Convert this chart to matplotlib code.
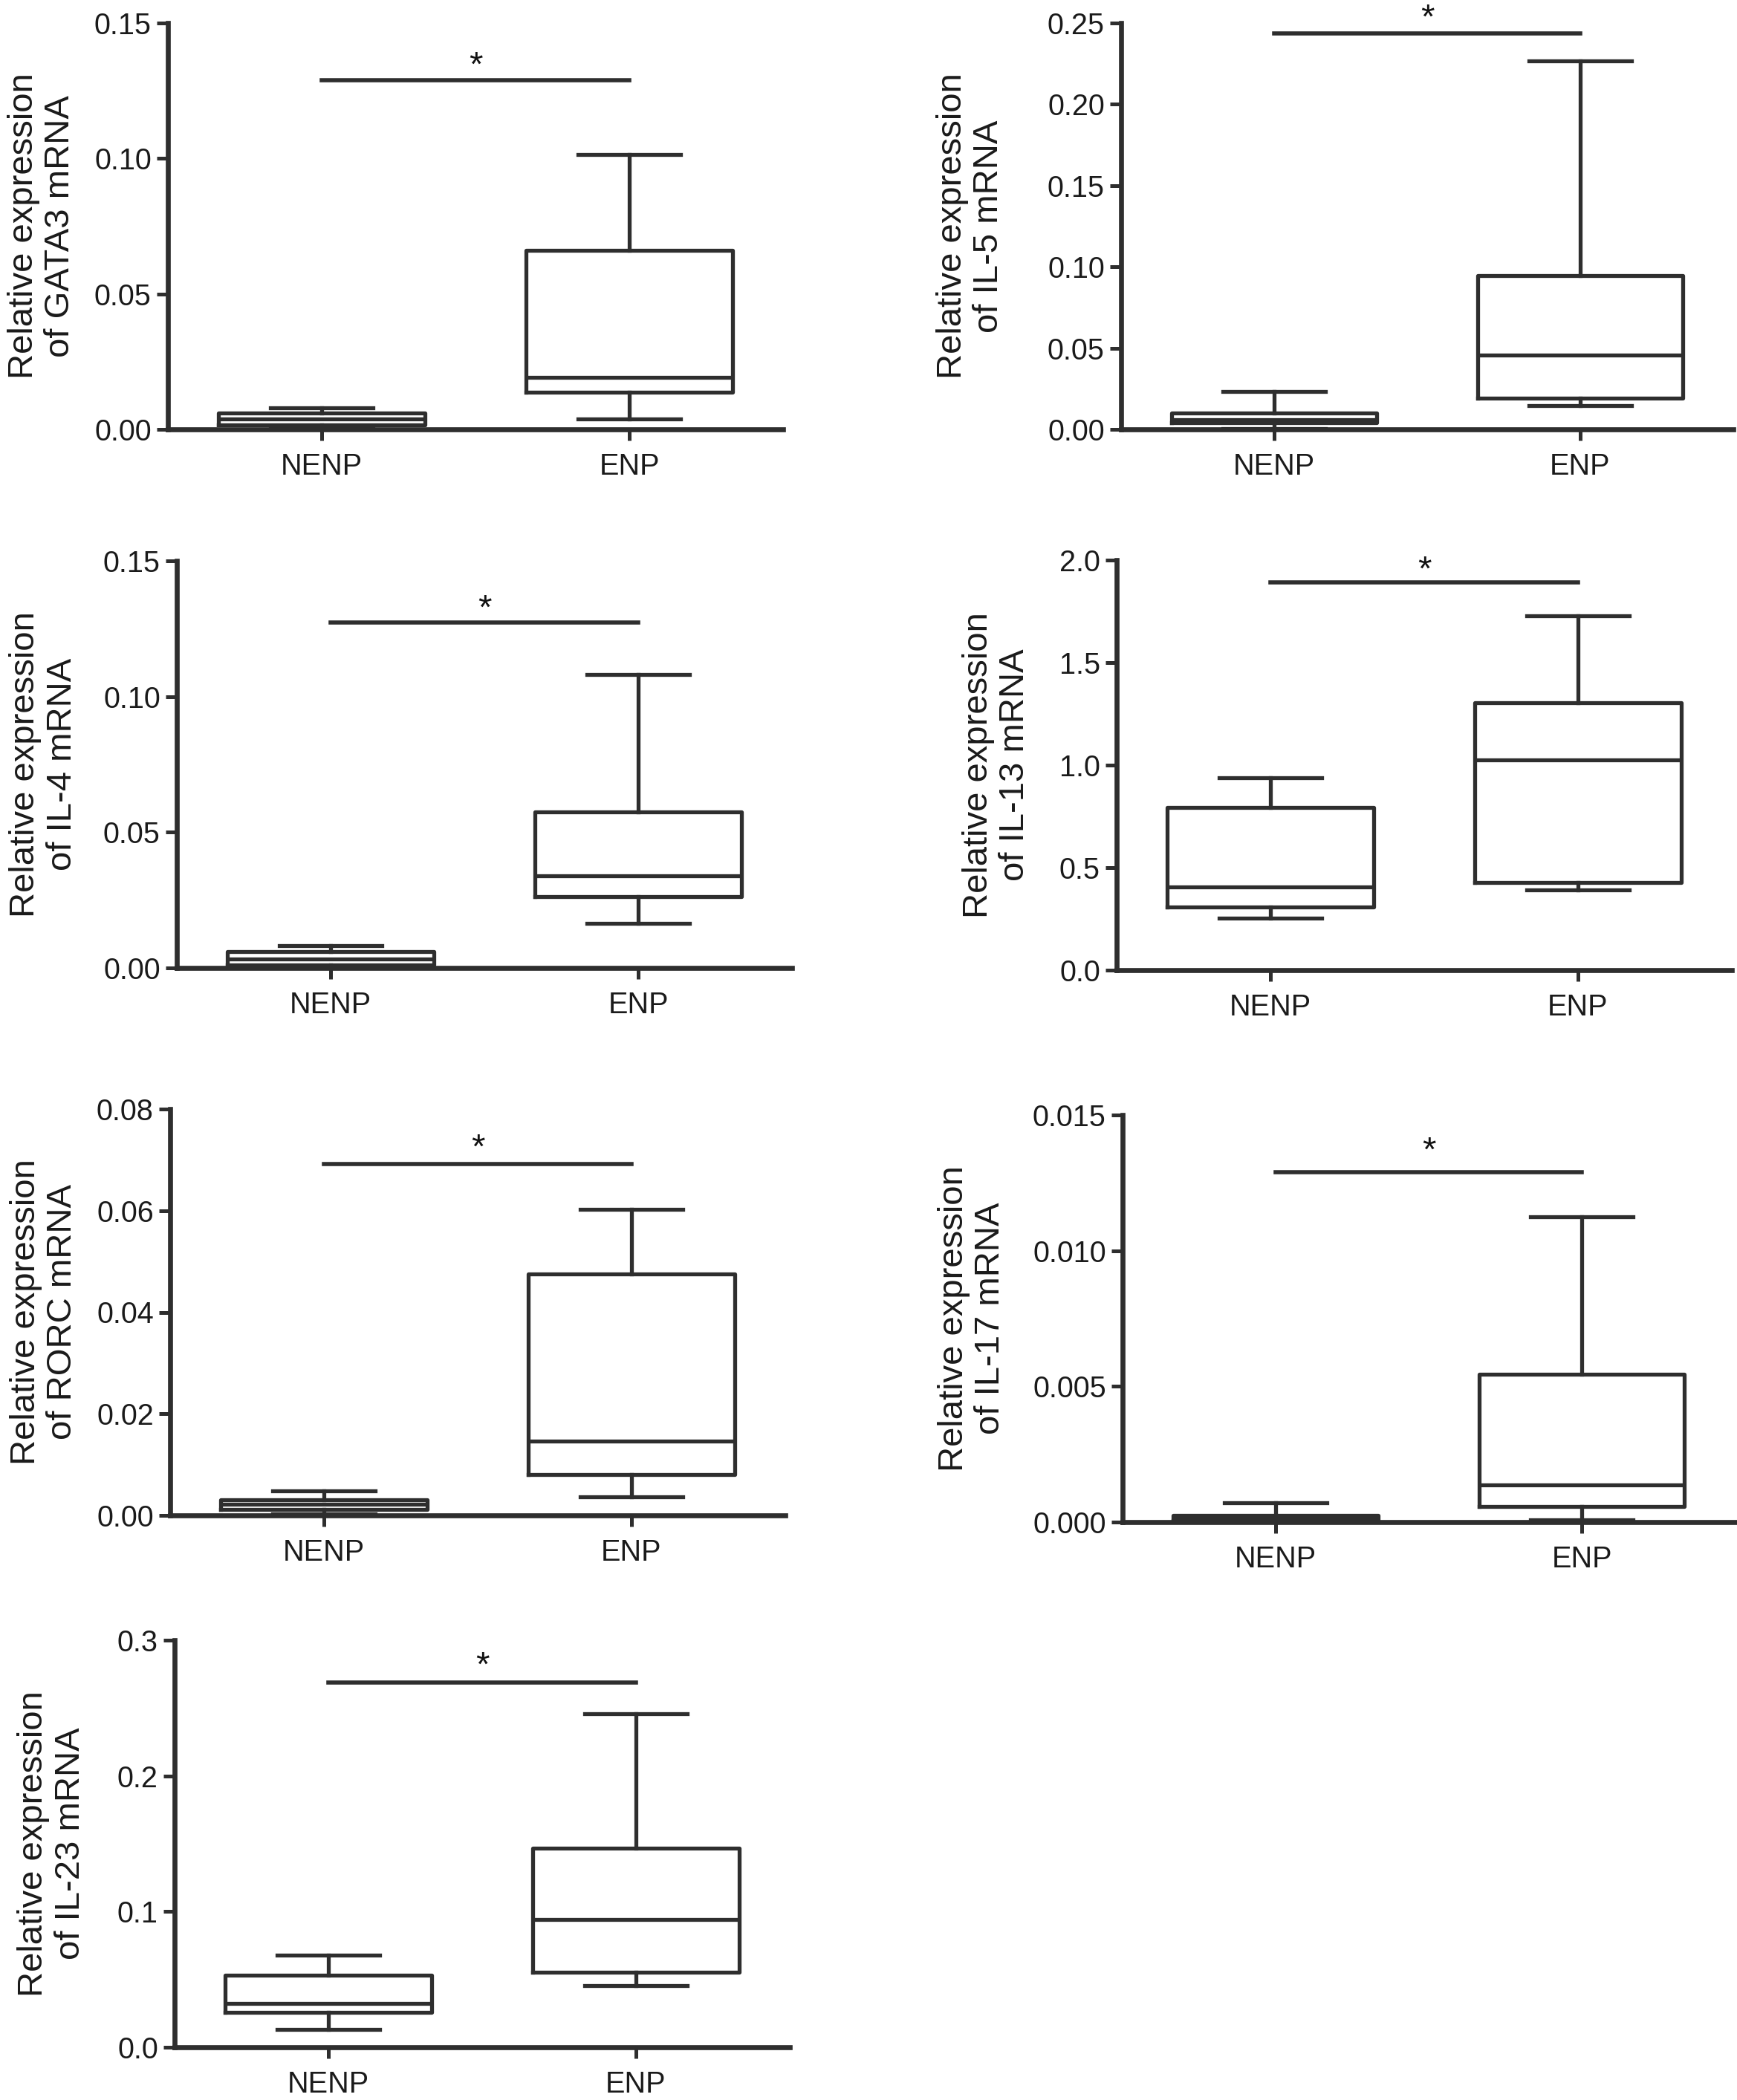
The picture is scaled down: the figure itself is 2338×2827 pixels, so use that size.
import matplotlib
matplotlib.use('Agg')
import matplotlib.pyplot as plt

plt.rcParams['font.family'] = ['Liberation Sans', 'DejaVu Sans']

# box stats: whislo, q1, median, q3, whishi
groups = ['NENP', 'ENP']

gata3_nenp = [0.0005, 0.0016, 0.0038, 0.0059, 0.0080]
gata3_enp = [0.0038, 0.0138, 0.0193, 0.0661, 0.1014]
il5_nenp = [0.0006, 0.0040, 0.0061, 0.0102, 0.0235]
il5_enp = [0.0145, 0.0190, 0.0455, 0.0945, 0.2265]
il4_nenp = [0.0006, 0.0012, 0.0033, 0.0061, 0.0083]
il4_enp = [0.0163, 0.0264, 0.0340, 0.0576, 0.1080]
il13_nenp = [0.255, 0.307, 0.404, 0.795, 0.940]
il13_enp = [0.393, 0.429, 1.026, 1.304, 1.729]
rorc_nenp = [0.0003, 0.0012, 0.0022, 0.0031, 0.0048]
rorc_enp = [0.0037, 0.0081, 0.0146, 0.0475, 0.0603]
il17_nenp = [0.00001, 0.00006, 0.00012, 0.00025, 0.00071]
il17_enp = [0.00007, 0.00058, 0.00136, 0.00546, 0.01126]
il23_nenp = [0.013, 0.0258, 0.0321, 0.053, 0.0677]
il23_enp = [0.0454, 0.0552, 0.0939, 0.1467, 0.246]

gata3_ticks = ['0.00', '0.05', '0.10', '0.15']
il5_ticks = ['0.00', '0.05', '0.10', '0.15', '0.20', '0.25']
il4_ticks = ['0.00', '0.05', '0.10', '0.15']
il13_ticks = ['0.0', '0.5', '1.0', '1.5', '2.0']
rorc_ticks = ['0.00', '0.02', '0.04', '0.06', '0.08']
il17_ticks = ['0.000', '0.005', '0.010', '0.015']
il23_ticks = ['0.0', '0.1', '0.2', '0.3']

# significance bar heights and star heights
sig_bar = [0.1289, 0.2435, 0.1272, 1.891, 0.0692, 0.01288, 0.2686]
sig_star = [0.134, 0.2524, 0.132, 1.945, 0.0722, 0.01365, 0.2806]

W, H = 2338, 2827
INK = '#2e2e2e'


def rect(left, top, bottom, width=828):
    return [left / W, 1 - bottom / H, width / W, (bottom - top) / H]


panels = [
    ('GATA3', gata3_nenp, gata3_enp, gata3_ticks, rect(226, 31, 578), -0.149),
    ('IL-5', il5_nenp, il5_enp, il5_ticks, rect(1509, 31, 578, 824), -0.189),
    ('IL-4', il4_nenp, il4_enp, il4_ticks, rect(238, 755, 1303), -0.160),
    ('IL-13', il13_nenp, il13_enp, il13_ticks, rect(1503, 754, 1306), -0.139),
    ('RORC', rorc_nenp, rorc_enp, rorc_ticks, rect(229, 1493, 2040), -0.149),
    ('IL-17', il17_nenp, il17_enp, il17_ticks, rect(1511, 1501, 2049, 824), -0.189),
    ('IL-23', il23_nenp, il23_enp, il23_ticks, rect(235, 2208, 2756), -0.143),
]

fig = plt.figure(figsize=(W / 100, H / 100), dpi=100)

for i, (gene, nenp, enp, ticks, pos, label_x) in enumerate(panels):
    ax = fig.add_axes(pos)
    stats = []
    for name, s in zip(groups, [nenp, enp]):
        stats.append(dict(label=name, whislo=s[0], q1=s[1], med=s[2], q3=s[3], whishi=s[4]))
    line = dict(color=INK, linewidth=3.8)
    ax.bxp(stats, positions=[1, 2], widths=0.67, capwidths=0.335, showfliers=False,
           boxprops=line, medianprops=line, whiskerprops=line, capprops=line)

    yt = [float(t) for t in ticks]
    ax.set_ylim(0, yt[-1])
    ax.set_yticks(yt, ticks)
    ax.set_xlim(0.5, 2.5)
    ax.set_xticks([1, 2], groups)

    ax.plot([1, 2], [sig_bar[i]] * 2, color=INK, linewidth=4.0, clip_on=False)
    ax.text(1.5, sig_star[i], '*', ha='center', va='center', fontsize=34, color='#111111')

    for side in ['top', 'right']:
        ax.spines[side].set_visible(False)
    for side in ['left', 'bottom']:
        ax.spines[side].set_linewidth(4.8)
        ax.spines[side].set_color(INK)
    ax.tick_params(axis='y', length=11, width=3.6, color=INK, pad=5, labelsize=28.5,
                   labelcolor='#1a1a1a')
    ax.tick_params(axis='x', length=11, width=3.6, color=INK, pad=11, labelsize=28.5,
                   labelcolor='#1a1a1a')
    ax.set_ylabel('Relative expression\nof {} mRNA'.format(gene), fontsize=34,
                  color='#1a1a1a', linespacing=1.15)
    ax.yaxis.set_label_coords(label_x, 0.5)

fig.savefig('out.png', dpi=100, facecolor='white')
